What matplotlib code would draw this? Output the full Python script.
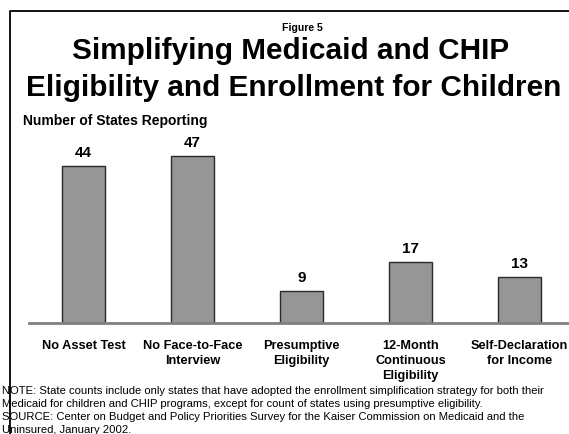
import matplotlib
matplotlib.use("Agg")
import matplotlib.pyplot as plt
from matplotlib.lines import Line2D

plt.rcParams['font.family'] = ['Liberation Sans', 'DejaVu Sans']

categories = ["No Asset Test", "No Face-to-Face\nInterview", "Presumptive\nEligibility",
              "12-Month\nContinuous\nEligibility", "Self-Declaration\nfor Income"]
states = [44, 47, 9, 17, 13]

fig_title = ["Simplifying Medicaid and CHIP", "Eligibility and Enrollment for Children"]
note_lines = [
    "NOTE: State counts include only states that have adopted the enrollment simplification strategy for both their",
    "Medicaid for children and CHIP programs, except for count of states using presumptive eligibility.",
    "SOURCE: Center on Budget and Policy Priorities Survey for the Kaiser Commission on Medicaid and the",
    "Uninsured, January 2002.",
]

W, H = 569, 435
fig = plt.figure(figsize=(W / 100, H / 100), dpi=100)


def fx(px):
    return px / W


def fy(py):
    return 1 - py / H


# outer frame (top and left edges)
fig.add_artist(Line2D([fx(10), fx(10), 1.0], [0.0, fy(12), fy(12)],
                      transform=fig.transFigure, color='black', lw=1.3))

fig.text(fx(302), fy(31), "Figure 5", ha='center', va='baseline',
         fontsize=7.6, fontweight='bold')
fig.text(fx(291), fy(59), fig_title[0], ha='center', va='baseline',
         fontsize=21.4, fontweight='bold')
fig.text(fx(294), fy(96), fig_title[1], ha='center', va='baseline',
         fontsize=21.4, fontweight='bold')
fig.text(fx(23), fy(125), "Number of States Reporting", ha='left', va='baseline',
         fontsize=10, fontweight='bold')

ax = fig.add_axes([fx(29), fy(324), 1 - fx(29), fy(140) - fy(324)])
ax.set_xlim(-0.5, 4.454)
ax.set_ylim(0, 184 / 3.56)

x = range(len(states))
bars = ax.bar(x, states, width=0.4, color='#969696', edgecolor='#2a2a2a',
              linewidth=1.0, zorder=2)
for b, v in zip(bars, states):
    ax.annotate(str(v), (b.get_x() + b.get_width() / 2, v), xytext=(0, 7.2),
                textcoords='offset points', ha='center', va='baseline',
                fontsize=11, fontweight='bold')

for s in ['top', 'right', 'left']:
    ax.spines[s].set_visible(False)
ax.spines['bottom'].set_color('#808080')
ax.spines['bottom'].set_linewidth(2.0)
ax.set_yticks([])
ax.set_xticks(list(x))
ax.set_xticklabels(categories, fontsize=9.2, fontweight='bold', linespacing=1.36)
ax.tick_params(axis='x', length=0, pad=11.5)
ax.patch.set_alpha(0)

for i, line in enumerate(note_lines):
    fig.text(fx(2), fy(394 + 12.9 * i), line, ha='left', va='baseline', fontsize=8.1)

fig.savefig("out.png", dpi=100)
